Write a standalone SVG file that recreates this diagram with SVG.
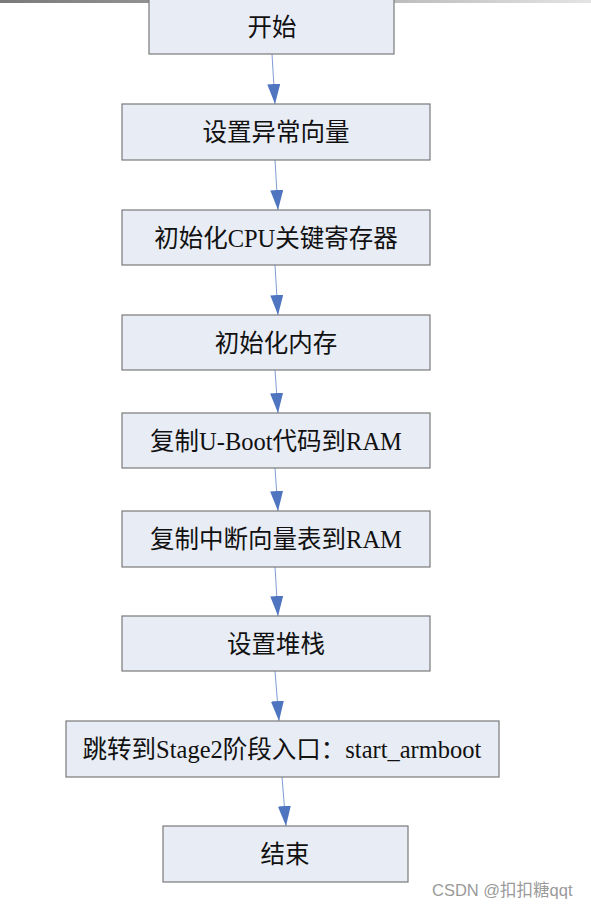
<svg xmlns="http://www.w3.org/2000/svg" width="591" height="908" viewBox="0 0 591 908">
<defs>
<linearGradient id="topbar" x1="0" y1="0" x2="1" y2="0">
<stop offset="0" stop-color="#7a7a7a"/>
<stop offset="0.5" stop-color="#a8a8a8"/>
<stop offset="1" stop-color="#e4e4e4"/>
</linearGradient>
<marker id="arrow" markerUnits="userSpaceOnUse" markerWidth="20" markerHeight="13" refX="20" refY="6.5" orient="auto" viewBox="0 0 20 13">
<path d="M0,0 L20,6.5 L0,13 Z" fill="#4f74c0"/>
</marker>
<style>
.box{fill:#e8ecf5;stroke:#7a7a7a;stroke-width:1.2}
.lbl{font-family:"Liberation Serif","Noto Sans CJK SC",serif;font-size:24.5px;fill:#111;text-anchor:middle;dominant-baseline:central}
.conn{stroke:#7f9cd4;stroke-width:1;fill:none;marker-end:url(#arrow)}
.wm{font-family:"Liberation Sans","Noto Sans CJK SC",sans-serif;font-size:16.5px;fill:#9a9a9a}
</style>
</defs>
<rect x="0" y="0" width="591" height="3" fill="url(#topbar)"/>
<g id="connectors">
<line class="conn" x1="272" y1="54" x2="275" y2="104"/>
<line class="conn" x1="275" y1="160" x2="278" y2="210"/>
<line class="conn" x1="275" y1="265" x2="278" y2="315"/>
<line class="conn" x1="275" y1="370" x2="278" y2="413"/>
<line class="conn" x1="275" y1="468" x2="278" y2="511"/>
<line class="conn" x1="275" y1="567" x2="278" y2="616"/>
<line class="conn" x1="275" y1="671" x2="279" y2="721"/>
<line class="conn" x1="282" y1="777" x2="286" y2="826"/>
</g>
<g id="n1"><rect class="box" x="149" y="-2" width="245" height="56"/><text class="lbl" x="272" y="27">开始</text></g>
<g id="n2"><rect class="box" x="122" y="104" width="308" height="56"/><text class="lbl" x="276" y="132">设置异常向量</text></g>
<g id="n3"><rect class="box" x="122" y="210" width="308" height="55"/><text class="lbl" x="276" y="238">初始化CPU关键寄存器</text></g>
<g id="n4"><rect class="box" x="122" y="315" width="308" height="55"/><text class="lbl" x="276" y="343">初始化内存</text></g>
<g id="n5"><rect class="box" x="122" y="413" width="308" height="55"/><text class="lbl" x="276" y="441">复制U-Boot代码到RAM</text></g>
<g id="n6"><rect class="box" x="122" y="511" width="308" height="56"/><text class="lbl" x="276" y="539">复制中断向量表到RAM</text></g>
<g id="n7"><rect class="box" x="122" y="616" width="308" height="55"/><text class="lbl" x="276" y="644">设置堆栈</text></g>
<g id="n8"><rect class="box" x="66" y="721" width="433" height="56"/><text class="lbl" x="282" y="749">跳转到Stage2阶段入口：start_armboot</text></g>
<g id="n9"><rect class="box" x="163" y="826" width="245" height="56"/><text class="lbl" x="285" y="854">结束</text></g>
<text class="wm" x="432" y="896">CSDN @扣扣糖qqt</text>
</svg>
